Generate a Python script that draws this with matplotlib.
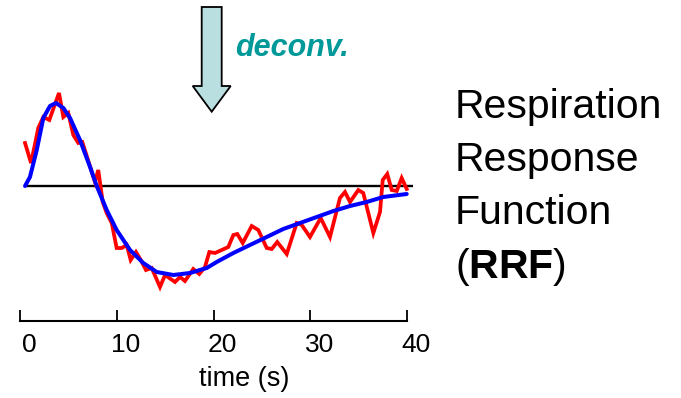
import matplotlib.pyplot as plt
from matplotlib.patches import Polygon
from matplotlib.transforms import ScaledTranslation

plt.rcParams['font.family'] = ['Liberation Sans', 'DejaVu Sans']
plt.rcParams['mathtext.fontset'] = 'custom'
plt.rcParams['mathtext.rm'] = 'Liberation Sans'
plt.rcParams['mathtext.bf'] = 'Liberation Sans:bold'

# measured response (noisy) and fitted RRF (smooth), time in s
t_meas = [0.52, 1.14, 1.89, 2.41, 3.03, 4.03, 4.48, 4.99, 5.51, 6.03, 6.44, 7.75,
          8.09, 8.55, 8.96, 9.48, 9.99, 10.51, 11.03, 11.44, 11.99, 12.48, 13.02,
          13.61, 14.47, 14.99, 16.02, 16.54, 17.05, 17.91, 18.53, 19.12, 19.57,
          20.16, 20.85, 21.53, 22.05, 22.46, 23.02, 23.95, 24.63, 25.50, 26.02,
          26.59, 27.57, 28.60, 29.12, 29.97, 31.08, 32.04, 33.07, 33.59, 34.11,
          34.97, 35.48, 36.52, 37.21, 37.49, 37.96, 38.42, 38.94, 39.45, 39.97]
y_meas = [0.43, 0.23, 0.58, 0.69, 0.66, 0.93, 0.69, 0.73, 0.51, 0.43, 0.44, 0.04,
          0.16, -0.16, -0.27, -0.37, -0.62, -0.62, -0.59, -0.74, -0.66, -0.74, -0.84,
          -0.82, -1.01, -0.89, -0.96, -0.91, -0.95, -0.83, -0.88, -0.81, -0.66,
          -0.67, -0.64, -0.61, -0.49, -0.48, -0.57, -0.40, -0.44, -0.62, -0.63,
          -0.56, -0.68, -0.37, -0.39, -0.51, -0.32, -0.51, -0.12, -0.06, -0.16,
          -0.04, -0.07, -0.47, -0.26, 0.06, 0.12, -0.04, -0.05, 0.08, -0.03]

t_fit = [0.52, 1.03, 1.73, 2.41, 3.10, 3.72, 4.48, 5.17, 6.20, 7.24, 7.93, 8.96,
         9.99, 11.37, 12.74, 14.13, 15.85, 17.57, 19.30, 20.33, 22.05, 23.77,
         25.50, 27.21, 28.94, 30.67, 32.40, 34.11, 35.83, 37.55, 39.97]
y_fit = [0.0, 0.09, 0.36, 0.68, 0.80, 0.83, 0.78, 0.68, 0.46, 0.19, 0.0, -0.24,
         -0.44, -0.64, -0.77, -0.86, -0.89, -0.87, -0.82, -0.76, -0.67, -0.59,
         -0.51, -0.43, -0.37, -0.31, -0.25, -0.20, -0.16, -0.11, -0.08]

xticks = [0, 10, 20, 30, 40]

W, H = 681, 398
fig = plt.figure(figsize=(W / 100, H / 100), dpi=100)


def fx(px):
    return px / W


def fy(py):
    return 1 - py / H


ax = fig.add_axes([fx(20), fy(321), (407 - 20) / W, (321 - 80) / H])
ax.set_xlim(0, 40)
ax.set_ylim(-1.35, 1.06)

ax.hlines(0, 0.52, 40.6, color='black', lw=1.7, clip_on=False, zorder=1)
ax.plot(t_meas, y_meas, color='#ff0000', lw=2.7, zorder=2, clip_on=False,
        solid_joinstyle='miter')
ax.plot(t_fit, y_fit, color='#0000ff', lw=2.9, zorder=3, clip_on=False,
        solid_capstyle='round')

for s in ['top', 'left', 'right']:
    ax.spines[s].set_visible(False)
ax.spines['bottom'].set_linewidth(1.5)
ax.set_yticks([])
ax.set_xticks(xticks)
ax.set_xticklabels([str(v) for v in xticks])
ax.tick_params(axis='x', direction='in', length=8, width=1.3, pad=9, labelsize=19)
for lab in ax.get_xticklabels():
    lab.set_transform(lab.get_transform() + ScaledTranslation(9 / 100, 0, fig.dpi_scale_trans))

fig.text(fx(244), fy(386), 'time (s)', ha='center', va='baseline', fontsize=19.5)

# deconvolution arrow
arrow = [(201.7, 7), (221.7, 7), (221.7, 86), (230.7, 86), (211.7, 111.7),
         (192.7, 86), (201.7, 86)]
fig.patches.append(Polygon([(fx(x), fy(y)) for x, y in arrow], closed=True,
                           transform=fig.transFigure, facecolor='#b9dfe1',
                           edgecolor='black', lw=1.3))
fig.text(fx(235), fy(56), 'deconv.', color='#009999', fontsize=22,
         fontweight='bold', fontstyle='italic', va='baseline')

# label on the right
for txt, base in [('Respiration', 118), ('Response', 171), ('Function', 224),
                  (r'($\mathbf{RRF}$)', 278)]:
    fig.text(fx(455), fy(base), txt, fontsize=29.5, va='baseline', ha='left')

fig.savefig('out.png', dpi=100)
